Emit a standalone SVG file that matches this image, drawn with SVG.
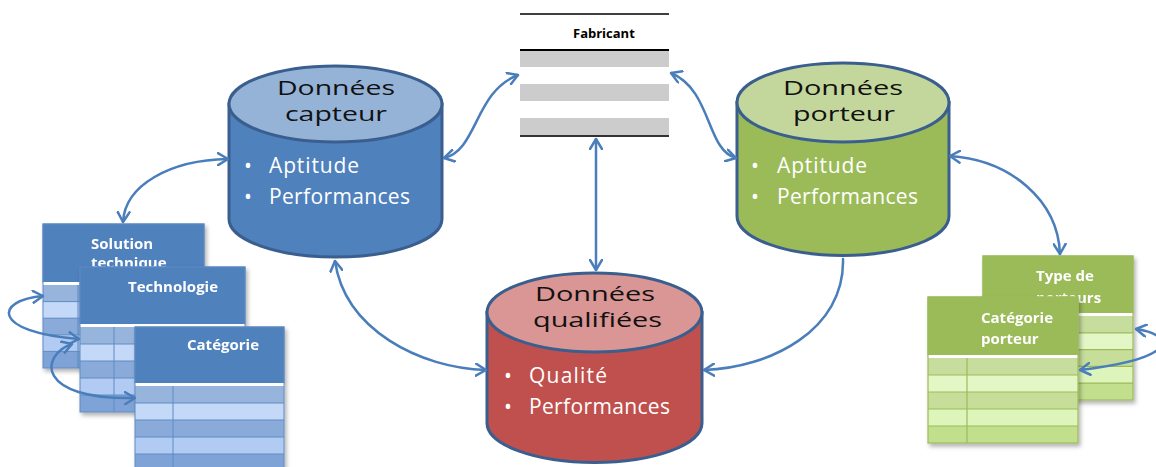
<svg xmlns="http://www.w3.org/2000/svg" width="1156" height="467" viewBox="0 0 1156 467">
<style>
.cyl{stroke:#3a5f8f;stroke-width:3}
.title{font-family:"Open Sans","Liberation Sans",sans-serif;font-size:20px;fill:#111}
.bul{font-family:"Open Sans","Liberation Sans",sans-serif;font-size:21px;fill:#fff}
.th{font-family:"Open Sans","Liberation Sans",sans-serif;font-size:15px;font-weight:bold;fill:#fff}
.fab{font-family:"Open Sans","Liberation Sans",sans-serif;font-size:13px;font-weight:bold;fill:#000}
.conn{fill:none;stroke:#4a7ebb;stroke-width:2.5;stroke-linecap:round}
.bh{fill:#4f81bd;stroke:#4f81bd;stroke-width:1}
.bA{fill:#97b4dc}.bB{fill:#c4d8f8}.bC{fill:#8aabd9}.bD{fill:#b2cbf2}.bE{fill:#7fa3d6}
.bl{stroke:#5f8cc4;stroke-width:1;fill:none}
.gh{fill:#9bbb59;stroke:#9bbb59;stroke-width:1}
.gA{fill:#c7dd9d}.gB{fill:#e3f7c6}.gC{fill:#c6de9a}.gD{fill:#ddf5bb}.gE{fill:#c2df8e}
.gl{stroke:#9bbb59;stroke-width:1.2;fill:none}
</style>
<defs>
<filter id="sh" x="-10%" y="-10%" width="130%" height="130%">
<feDropShadow dx="2" dy="3" stdDeviation="2" flood-color="#000" flood-opacity="0.3"/>
</filter>
<marker id="ah" viewBox="0 0 12 14" refX="11" refY="7" markerWidth="12" markerHeight="14" markerUnits="userSpaceOnUse" orient="auto-start-reverse">
<path d="M1,1 L11,7 L1,13" fill="none" stroke="#4a7ebb" stroke-width="2.5" stroke-linecap="round" stroke-linejoin="round"/>
</marker>
</defs>

<g id="fabricant">
<line x1="520" y1="14" x2="669" y2="14" stroke="#000" stroke-width="1.5"/>
<text class="fab" x="573" y="38">Fabricant</text>
<line x1="520" y1="50" x2="669" y2="50" stroke="#000" stroke-width="2"/>
<rect x="520" y="51" width="149" height="16" fill="#cccccc"/>
<rect x="520" y="84" width="149" height="17" fill="#cccccc"/>
<rect x="520" y="118" width="149" height="17" fill="#cccccc"/>
<line x1="520" y1="136" x2="669" y2="136" stroke="#333" stroke-width="2"/>
</g>

<g id="donnees-capteur">
<path class="cyl" fill="#4f81bd" d="M229,104 L229,219 A106.5,38 0 0 0 442,219 L442,104 Z"/>
<ellipse class="cyl" fill="#95b3d7" cx="335.5" cy="104" rx="106.5" ry="38"/>
<text class="title" x="277" y="95" textLength="118" lengthAdjust="spacingAndGlyphs">Données</text>
<text class="title" x="285" y="121" textLength="102" lengthAdjust="spacingAndGlyphs">capteur</text>
<text class="bul" x="248" y="173" text-anchor="middle">•</text>
<text class="bul" x="269" y="173" textLength="90" lengthAdjust="spacing">Aptitude</text>
<text class="bul" x="248" y="204" text-anchor="middle">•</text>
<text class="bul" x="269" y="204" textLength="141" lengthAdjust="spacing">Performances</text>
</g>

<g id="donnees-porteur">
<path class="cyl" fill="#9bbb59" d="M737,102.5 L737,216 A106,39.5 0 0 0 949,216 L949,102.5 Z"/>
<ellipse class="cyl" fill="#c3d69b" cx="843" cy="102.5" rx="106" ry="39.5"/>
<text class="title" x="783" y="95" textLength="120" lengthAdjust="spacingAndGlyphs">Données</text>
<text class="title" x="793" y="121" textLength="102" lengthAdjust="spacingAndGlyphs">porteur</text>
<text class="bul" x="755" y="173" text-anchor="middle">•</text>
<text class="bul" x="777" y="173" textLength="90" lengthAdjust="spacing">Aptitude</text>
<text class="bul" x="755" y="204" text-anchor="middle">•</text>
<text class="bul" x="777" y="204" textLength="141" lengthAdjust="spacing">Performances</text>
</g>

<g id="donnees-qualifiees">
<path class="cyl" fill="#c0504d" d="M487,312.5 L487,423 A107.5,39.5 0 0 0 702,423 L702,312.5 Z"/>
<ellipse class="cyl" fill="#d99694" cx="594.5" cy="312.5" rx="107.5" ry="39.5"/>
<text class="title" x="535" y="301" textLength="120" lengthAdjust="spacingAndGlyphs">Données</text>
<text class="title" x="533" y="327" textLength="129" lengthAdjust="spacingAndGlyphs">qualifiées</text>
<text class="bul" x="508" y="383" text-anchor="middle">•</text>
<text class="bul" x="529" y="383" textLength="78" lengthAdjust="spacing">Qualité</text>
<text class="bul" x="508" y="414" text-anchor="middle">•</text>
<text class="bul" x="529" y="414" textLength="141" lengthAdjust="spacing">Performances</text>
</g>

<g id="table-solution-technique" filter="url(#sh)">
<rect class="bh" x="43" y="224" width="161" height="58"/>
<rect x="43" y="282" width="161" height="3" fill="#fff"/>
<rect class="bA" x="43" y="285" width="161" height="16.6"/>
<rect class="bB" x="43" y="301.6" width="161" height="16.6"/>
<rect class="bC" x="43" y="318.2" width="161" height="16.6"/>
<rect class="bD" x="43" y="334.8" width="161" height="16.6"/>
<rect class="bE" x="43" y="351.4" width="161" height="16.6"/>
<path class="bl" d="M43,301.6H204M43,318.2H204M43,334.8H204M43,351.4H204M78,285V368"/>
<rect class="bl" x="43" y="224" width="161" height="144" stroke="#4f81bd"/>
<text class="th" x="91" y="249">Solution</text>
<text class="th" x="91" y="268">technique</text>
</g>

<g id="table-technologie" filter="url(#sh)">
<rect class="bh" x="80" y="267" width="165" height="57"/>
<rect x="80" y="324" width="165" height="3" fill="#fff"/>
<rect class="bA" x="80" y="327" width="165" height="17"/>
<rect class="bB" x="80" y="344" width="165" height="17"/>
<rect class="bC" x="80" y="361" width="165" height="17"/>
<rect class="bD" x="80" y="378" width="165" height="17"/>
<rect class="bE" x="80" y="395" width="165" height="17"/>
<path class="bl" d="M80,344H245M80,361H245M80,378H245M80,395H245M114,327V412"/>
<rect class="bl" x="80" y="267" width="165" height="145" stroke="#4f81bd"/>
<text class="th" x="128" y="292">Technologie</text>
</g>

<g id="table-categorie" filter="url(#sh)">
<rect class="bh" x="135" y="327" width="149" height="56"/>
<rect x="135" y="383" width="149" height="3" fill="#fff"/>
<rect class="bA" x="135" y="386" width="149" height="17"/>
<rect class="bB" x="135" y="403" width="149" height="17"/>
<rect class="bC" x="135" y="420" width="149" height="17"/>
<rect class="bD" x="135" y="437" width="149" height="17"/>
<rect class="bE" x="135" y="454" width="149" height="17"/>
<path class="bl" d="M135,403H284M135,420H284M135,437H284M135,454H284M173,386V471"/>
<rect class="bl" x="135" y="327" width="149" height="144" stroke="#4f81bd"/>
<text class="th" x="187" y="350">Catégorie</text>
</g>

<g id="table-type-de-porteurs" filter="url(#sh)">
<rect class="gh" x="983" y="256" width="150" height="57"/>
<rect x="983" y="313" width="150" height="3" fill="#fff"/>
<rect class="gA" x="983" y="316" width="150" height="16.8"/>
<rect class="gB" x="983" y="332.8" width="150" height="16.8"/>
<rect class="gC" x="983" y="349.6" width="150" height="16.8"/>
<rect class="gD" x="983" y="366.4" width="150" height="16.8"/>
<rect class="gE" x="983" y="383.2" width="150" height="16.8"/>
<path class="gl" d="M983,332.8H1133M983,349.6H1133M983,366.4H1133M983,383.2H1133M1022,316V400"/>
<rect class="gl" x="983" y="256" width="150" height="144"/>
<text class="th" x="1036" y="281">Type de</text>
<text class="th" x="1036" y="303">porteurs</text>
</g>

<g id="table-categorie-porteur" filter="url(#sh)">
<rect class="gh" x="928" y="297" width="150" height="58"/>
<rect x="928" y="355" width="150" height="3" fill="#fff"/>
<rect class="gA" x="928" y="358" width="150" height="17"/>
<rect class="gB" x="928" y="375" width="150" height="17"/>
<rect class="gC" x="928" y="392" width="150" height="17"/>
<rect class="gD" x="928" y="409" width="150" height="17"/>
<rect class="gE" x="928" y="426" width="150" height="17"/>
<path class="gl" d="M928,375H1078M928,392H1078M928,409H1078M928,426H1078M967,358V443"/>
<rect class="gl" x="928" y="297" width="150" height="146"/>
<text class="th" x="981" y="323">Catégorie</text>
<text class="th" x="981" y="344">porteur</text>
</g>

<g id="connectors">
<path class="conn" d="M444,158 C478,150 474,92 518,75" marker-start="url(#ah)" marker-end="url(#ah)"/>
<path class="conn" d="M671,73 C712,90 706,150 736,158" marker-start="url(#ah)" marker-end="url(#ah)"/>
<path class="conn" d="M596,139 L596,270" marker-start="url(#ah)" marker-end="url(#ah)"/>
<path class="conn" d="M335,261 C345,330 420,368 486,370" marker-start="url(#ah)" marker-end="url(#ah)"/>
<path class="conn" d="M843,259 C845,330 770,368 704,370" marker-end="url(#ah)"/>
<path class="conn" d="M228,159 C170,160 125,185 123,222" marker-start="url(#ah)" marker-end="url(#ah)"/>
<path class="conn" d="M950,156 C1010,160 1058,200 1060,254" marker-start="url(#ah)" marker-end="url(#ah)"/>
<path class="conn" d="M43,296 C-5,300 -10,332 79,339" marker-start="url(#ah)" marker-end="url(#ah)"/>
<path class="conn" d="M72,344 C40,355 35,400 135,398" marker-start="url(#ah)" marker-end="url(#ah)"/>
<path class="conn" d="M1136,329 C1175,335 1180,358 1080,370" marker-start="url(#ah)" marker-end="url(#ah)"/>
</g>
</svg>
